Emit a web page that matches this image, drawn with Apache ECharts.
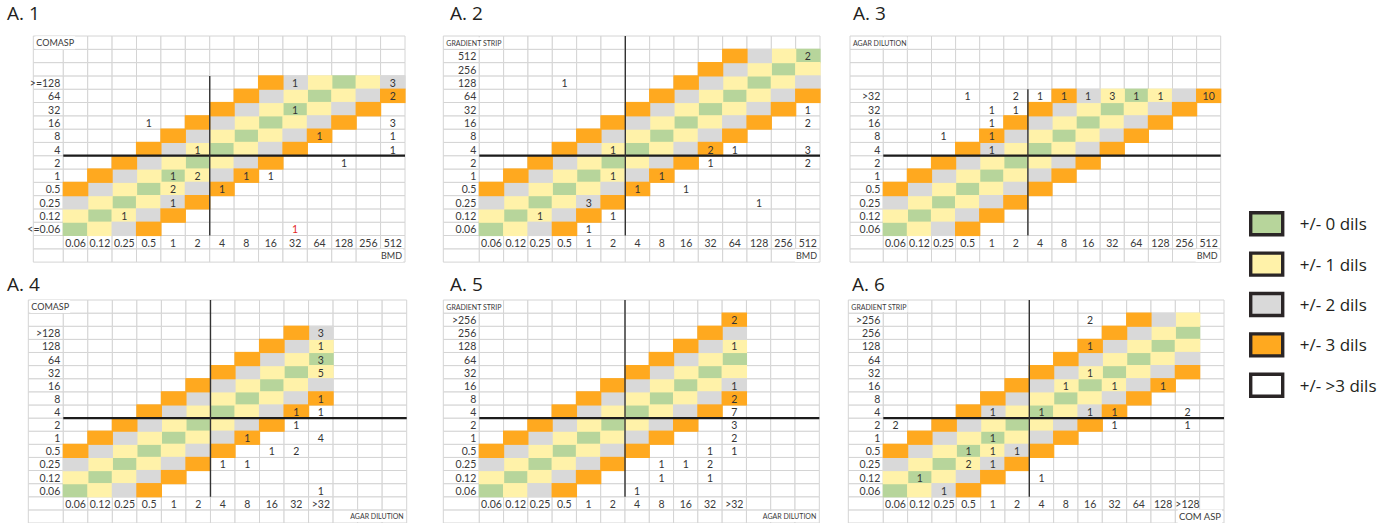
<!DOCTYPE html>
<html><head><meta charset="utf-8">
<script src="https://cdn.jsdelivr.net/npm/echarts@6/dist/echarts.min.js"></script>
<style>html,body{margin:0;padding:0;background:#fff}#c{width:1392px;height:523px}</style>
</head><body><div id="c"></div>
<script>
// ---------- tick labels ----------
const xLabelsBMD = ['0.06','0.12','0.25','0.5','1','2','4','8','16','32','64','128','256','512'];
const xLabelsAgar = ['0.06','0.12','0.25','0.5','1','2','4','8','16','32','>32'];
const xLabelsComAsp = ['0.06','0.12','0.25','0.5','1','2','4','8','16','32','64','128','>128'];
const yLabelsA1 = ['<=0.06','0.12','0.25','0.5','1','2','4','8','16','32','64','>=128'];
const yLabelsA2 = ['0.06','0.12','0.25','0.5','1','2','4','8','16','32','64','128','256','512'];
const yLabelsA3 = ['0.06','0.12','0.25','0.5','1','2','4','8','16','32','>32'];
const yLabelsA4 = ['0.06','0.12','0.25','0.5','1','2','4','8','16','32','64','128','>128'];
const yLabelsGS = ['0.06','0.12','0.25','0.5','1','2','4','8','16','32','64','128','256','>256'];

// ---------- legend categories ----------
const dilClasses = ['+/- 0 dils','+/- 1 dils','+/- 2 dils','+/- 3 dils','+/- >3 dils'];

// ---------- counts: [x label, y label, count] ----------
const countsA1 = [
  ['32','>=128',1],['512','>=128',3],
  ['512','64',2],
  ['32','32',1],
  ['0.5','16',1],['512','16',3],
  ['64','8',1],['512','8',1],
  ['2','4',1],['512','4',1],
  ['128','2',1],
  ['1','1',1],['2','1',2],['8','1',1],['16','1',1],
  ['1','0.5',2],['4','0.5',1],
  ['1','0.25',1],
  ['0.25','0.12',1]
];
const flaggedA1 = [['32','<=0.06',1]];
const countsA2 = [
  ['512','512',2],
  ['0.5','128',1],
  ['512','32',1],
  ['512','16',2],
  ['2','4',1],['32','4',2],['64','4',1],['512','4',3],
  ['32','2',1],['512','2',2],
  ['2','1',1],['8','1',1],
  ['4','0.5',1],['16','0.5',1],
  ['1','0.25',3],['128','0.25',1],
  ['0.25','0.12',1],['2','0.12',1],
  ['1','0.06',1]
];
const countsA3 = [
  ['0.5','>32',1],['2','>32',2],['4','>32',1],['8','>32',1],['16','>32',1],['32','>32',3],['64','>32',1],['128','>32',1],['512','>32',10],
  ['1','32',1],['2','32',1],
  ['1','16',1],
  ['0.25','8',1],['1','8',1],
  ['1','4',1]
];
const countsA4 = [
  ['>32','>128',3],
  ['>32','128',1],
  ['>32','64',3],
  ['>32','32',5],
  ['>32','8',1],
  ['32','4',1],['>32','4',1],
  ['32','2',1],
  ['8','1',1],['>32','1',4],
  ['16','0.5',1],['32','0.5',2],
  ['4','0.25',1],['8','0.25',1],
  ['>32','0.06',1]
];
const countsA5 = [
  ['>32','>256',2],
  ['>32','128',1],
  ['>32','16',1],
  ['>32','8',2],
  ['>32','4',7],
  ['>32','2',3],
  ['>32','1',2],
  ['32','0.5',1],['>32','0.5',1],
  ['8','0.25',1],['16','0.25',1],['32','0.25',2],
  ['8','0.12',1],['32','0.12',1],
  ['4','0.06',1]
];
const countsA6 = [
  ['16','>256',2],
  ['16','128',1],
  ['16','32',1],
  ['8','16',1],['32','16',1],['128','16',1],
  ['1','4',1],['4','4',1],['16','4',1],['32','4',1],['>128','4',2],
  ['0.06','2',2],['32','2',1],['>128','2',1],
  ['1','1',1],
  ['0.5','0.5',1],['1','0.5',1],['2','0.5',1],
  ['0.5','0.25',2],['1','0.25',1],
  ['0.12','0.12',1],['4','0.12',1],
  ['0.25','0.06',1]
];

// ---------- panels ----------
const panels = [
  {title:'A. 1', xLabels:xLabelsBMD, yLabels:yLabelsA1, counts:countsA1, flagged:flaggedA1, yName:'COMASP', xName:'BMD', topExtra:3},
  {title:'A. 2', xLabels:xLabelsBMD, yLabels:yLabelsA2, counts:countsA2, flagged:[], yName:'GRADIENT STRIP', xName:'BMD', topExtra:1},
  {title:'A. 3', xLabels:xLabelsBMD, yLabels:yLabelsA3, counts:countsA3, flagged:[], yName:'AGAR DILUTION', xName:'BMD', topExtra:4},
  {title:'A. 4', xLabels:xLabelsAgar, yLabels:yLabelsA4, counts:countsA4, flagged:[], yName:'COMASP', xName:'AGAR DILUTION', topExtra:2},
  {title:'A. 5', xLabels:xLabelsAgar, yLabels:yLabelsGS, counts:countsA5, flagged:[], yName:'GRADIENT STRIP', xName:'AGAR DILUTION', topExtra:1},
  {title:'A. 6', xLabels:xLabelsComAsp, yLabels:yLabelsGS, counts:countsA6, flagged:[], yName:'GRADIENT STRIP', xName:'COM ASP', topExtra:1}
];

// ---------- layout (pixels / styles) ----------
const ROW_H = 13.3, N_COLS = 14, SPLIT = 6;
const layouts = [
  {left:33.3, labelRight:63.3, right:405, top:36, tx:7, ty:3, yNameSize:9, xNameSize:9, vToTop:false},
  {left:443.3, labelRight:479.3, right:820, top:36, tx:450, ty:3, yNameSize:7, xNameSize:9, vToTop:true},
  {left:850, labelRight:883.3, right:1220.7, top:36, tx:853, ty:3, yNameSize:7, xNameSize:9, vToTop:false},
  {left:28.3, labelRight:63.3, right:406.7, top:300, tx:7, ty:274, yNameSize:9, xNameSize:7, vToTop:true},
  {left:443.3, labelRight:479.3, right:819.3, top:300, tx:450, ty:274, yNameSize:7, xNameSize:7, vToTop:true},
  {left:848.3, labelRight:883.3, right:1224, top:300, tx:852, ty:274, yNameSize:7, xNameSize:9.5, vToTop:true}
];
const classColors = ['#b7d59b','#fff2a9','#d9d9d9','#ffa91f','#ffffff'];
const gridLineColor = '#d4d4d4';
const textColor = '#3a3a3a';
const FONT = 'Lato, "Liberation Sans", sans-serif';

const chart = echarts.init(document.getElementById('c'), null, {renderer:'svg'});
const grids = [], xAxes = [], yAxes = [], titles = [], series = [];

panels.forEach((P, k) => {
  const L = layouts[k];
  const ny = P.yLabels.length, nx = P.xLabels.length;
  const topRow = ny + P.topExtra;
  const colW = (L.right - L.labelRight) / N_COLS;
  const xMin = -(L.labelRight - L.left) / colW;
  grids.push({left:L.left, top:L.top, width:L.right - L.left, height:(topRow + 2) * ROW_H});
  xAxes.push({type:'value', gridIndex:k, min:xMin, max:N_COLS, show:false});
  yAxes.push({type:'value', gridIndex:k, min:-2, max:topRow, show:false});
  titles.push({text:P.title, left:L.tx, top:L.ty, padding:0,
    textStyle:{fontFamily:'"Open Sans", sans-serif', fontSize:19, fontWeight:'normal', color:'#231f20'}});

  const base = {type:'custom', xAxisIndex:k, yAxisIndex:k, silent:true, animation:false, clip:false};

  // spreadsheet frame (white cells)
  const frameData = [];
  for (let r = -2; r < topRow; r++) for (let c = -1; c < N_COLS; c++) frameData.push([c, r]);
  series.push(Object.assign({}, base, {
    name: dilClasses[4], itemStyle:{color:classColors[4]}, data: frameData,
    renderItem: (params, api) => {
      const c = api.value(0), r = api.value(1);
      const x0 = c < 0 ? xMin : c, x1 = c < 0 ? 0 : c + 1;
      const p0 = api.coord([x0, r + 1]), p1 = api.coord([x1, r]);
      return {type:'rect', shape:{x:p0[0], y:p0[1], width:p1[0]-p0[0], height:p1[1]-p0[1]},
        style:{fill:'#ffffff', stroke:gridLineColor, lineWidth:1}};
    }
  }));

  // agreement cells by dilution difference
  for (let d = 0; d <= 3; d++) {
    const cells = [];
    for (let j = 0; j < ny; j++) for (let i = 0; i < nx; i++) if (Math.abs(i - j) === d) cells.push([i, j]);
    series.push(Object.assign({}, base, {
      name: dilClasses[d], itemStyle:{color:classColors[d]}, data: cells,
      renderItem: (params, api) => {
        const i = api.value(0), j = api.value(1);
        const p0 = api.coord([i, j + 1]), p1 = api.coord([i + 1, j]);
        return {type:'rect', shape:{x:p0[0]-0.6, y:p0[1]-0.6, width:p1[0]-p0[0]+1.2, height:p1[1]-p0[1]+1.2},
          style:{fill:classColors[d]}};
      }
    }));
  }

  // tick labels
  const tickData = [];
  P.yLabels.forEach((t, j) => tickData.push([0, j, j, 0]));
  P.xLabels.forEach((t, i) => tickData.push([i, -1, i, 1]));
  series.push(Object.assign({}, base, {
    name:'ticks', data: tickData,
    renderItem: (params, api) => {
      const kind = api.value(3), idx = api.value(2);
      if (kind === 0) {
        const p = api.coord([0, idx + 0.5]);
        return {type:'text', x:p[0] - 3, y:p[1] + 0.5, style:{text:P.yLabels[idx], fill:textColor, font:'10.5px ' + FONT, align:'right', verticalAlign:'middle'}};
      }
      const p = api.coord([idx + 0.5, -0.5]);
      return {type:'text', x:p[0], y:p[1] + 0.5, style:{text:P.xLabels[idx], fill:textColor, font:'10.5px ' + FONT, align:'center', verticalAlign:'middle'}};
    }
  }));

  // axis names
  series.push(Object.assign({}, base, {
    name:'names', data:[[0, topRow - 0.5, 0], [0, -1.5, 1]],
    renderItem: (params, api) => {
      const which = api.value(2);
      if (which === 0) {
        const p = api.coord([xMin, topRow - 0.5]);
        return {type:'text', x:p[0] + 2, y:p[1], style:{text:P.yName, fill:textColor, font:L.yNameSize + 'px ' + FONT,
          align:'left', verticalAlign:'middle', backgroundColor:'#fff', padding:[2,1,2,1]}};
      }
      const p = api.coord([N_COLS, -1.5]);
      return {type:'text', x:p[0] - 2, y:p[1], style:{text:P.xName, fill:textColor, font:L.xNameSize + 'px ' + FONT,
        align:'right', verticalAlign:'middle', backgroundColor:'#fff', padding:[2,1,2,1]}};
    }
  }));

  // separator lines
  const vTop = L.vToTop ? topRow : ny;
  series.push(Object.assign({}, base, {
    name:'separators', data:[[0],[1]],
    renderItem: (params, api) => {
      if (api.value(0) === 0) {
        const a = api.coord([0, SPLIT]), b = api.coord([N_COLS, SPLIT]);
        return {type:'line', shape:{x1:a[0], y1:a[1], x2:b[0], y2:b[1]}, style:{stroke:'#1c1c1c', lineWidth:2.2}};
      }
      const a = api.coord([SPLIT, 0]), b = api.coord([SPLIT, vTop]);
      return {type:'line', shape:{x1:a[0], y1:a[1], x2:b[0], y2:b[1]}, style:{stroke:'#333333', lineWidth:1.4}};
    }
  }));

  // counts
  const countData = P.counts.map(c => [P.xLabels.indexOf(c[0]), P.yLabels.indexOf(c[1]), c[2]]);
  const flagData = P.flagged.map(c => [P.xLabels.indexOf(c[0]), P.yLabels.indexOf(c[1]), c[2]]);
  const countRender = color => (params, api) => {
    const p = api.coord([api.value(0) + 0.5, api.value(1) + 0.5]);
    return {type:'text', x:p[0], y:p[1] + 0.5, style:{text:String(api.value(2)), fill:color, font:'10.5px ' + FONT, align:'center', verticalAlign:'middle'}};
  };
  series.push(Object.assign({}, base, {name:'counts', data:countData, renderItem:countRender('#333333')}));
  if (flagData.length) series.push(Object.assign({}, base, {name:'flagged', data:flagData, renderItem:countRender('#e3261f')}));
});

chart.setOption({
  animation:false,
  backgroundColor:'#ffffff',
  title: titles,
  grid: grids,
  xAxis: xAxes,
  yAxis: yAxes,
  legend: {
    data: dilClasses, orient:'vertical', left:1244, top:206, selectedMode:false,
    icon:'rect', itemWidth:32, itemHeight:22, itemGap:15,
    itemStyle:{borderColor:'#2a2526', borderWidth:3.4},
    textStyle:{fontFamily:'"Open Sans", sans-serif', fontSize:17, color:'#231f20', padding:[0,0,0,12]}
  },
  series: series
});
</script>
</body></html>
